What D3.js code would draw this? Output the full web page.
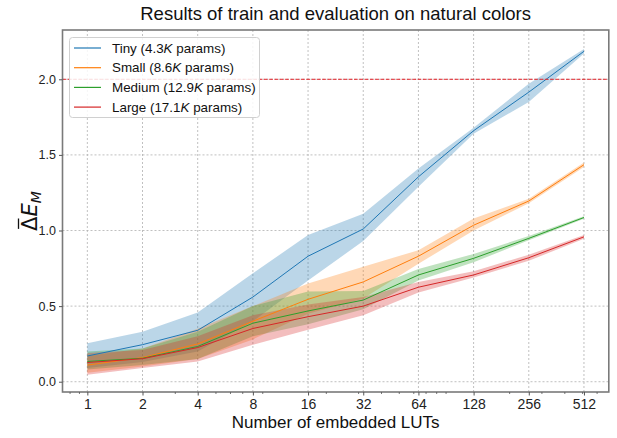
<!DOCTYPE html>
<html><head><meta charset="utf-8">
<script src="https://cdn.jsdelivr.net/npm/d3@7"></script>
<style>body{margin:0;background:#fff}svg{display:block}</style>
</head><body><svg id="c" width="617" height="438"></svg>
<script>
const luts = [1, 2, 4, 8, 16, 32, 64, 128, 256, 512];
const minorTicks = [0.8, 0.9, 3, 5, 6, 7, 9, 20, 30, 40, 50, 60, 70, 80, 90, 200, 300, 400, 500, 600];
const yTicks = [0, 0.5, 1.0, 1.5, 2.0];
const seriesNames = ["Tiny (4.3K params)", "Small (8.6K params)", "Medium (12.9K params)", "Large (17.1K params)"];
const seriesColors = ["#1f77b4", "#ff7f0e", "#2ca02c", "#d62728"];
const tinyMean  = [0.17, 0.245, 0.34, 0.56, 0.83, 1.01, 1.355, 1.66, 1.915, 2.185];
const tinyLow   = [0.09, 0.13, 0.20, 0.40, 0.67, 0.93, 1.29, 1.64, 1.85, 2.17];
const tinyHigh  = [0.255, 0.33, 0.457, 0.717, 0.97, 1.11, 1.41, 1.68, 1.97, 2.20];
const smallMean = [0.11, 0.16, 0.25, 0.40, 0.545, 0.66, 0.83, 1.035, 1.195, 1.435];
const smallLow  = [0.06, 0.10, 0.15, 0.28, 0.45, 0.55, 0.78, 1.00, 1.18, 1.42];
const smallHigh = [0.17, 0.22, 0.35, 0.50, 0.65, 0.76, 0.87, 1.08, 1.21, 1.45];
const medMean   = [0.134, 0.155, 0.233, 0.387, 0.468, 0.54, 0.706, 0.816, 0.948, 1.086];
const medLow    = [0.08, 0.11, 0.15, 0.30, 0.38, 0.48, 0.67, 0.79, 0.935, 1.077];
const medHigh   = [0.20, 0.22, 0.33, 0.50, 0.596, 0.60, 0.745, 0.845, 0.963, 1.095];
const largeMean = [0.127, 0.152, 0.226, 0.352, 0.43, 0.50, 0.625, 0.706, 0.82, 0.958];
const largeLow  = [0.046, 0.09, 0.134, 0.244, 0.343, 0.44, 0.59, 0.69, 0.80, 0.945];
const largeHigh = [0.19, 0.21, 0.30, 0.44, 0.51, 0.56, 0.66, 0.73, 0.84, 0.97];
const thresholdValue = 2.0;

const series = [
  {mean: tinyMean, low: tinyLow, high: tinyHigh},
  {mean: smallMean, low: smallLow, high: smallHigh},
  {mean: medMean, low: medLow, high: medHigh},
  {mean: largeMean, low: largeLow, high: largeHigh}
];

const L = 62.5, R = 608.8, T = 30, B = 392;
const svg = d3.select("#c");
const lx = d3.scaleLog().base(2).domain([Math.pow(2, -0.45), Math.pow(2, 9.45)]).range([L, R]);
const y = d3.scaleLinear().domain([-0.068, 2.326]).range([B, T]);
const font = "'Liberation Sans', Arial, Helvetica, sans-serif";

// grid
const grid = svg.append("g");
luts.forEach(v => grid.append("line").attr("x1", lx(v)).attr("x2", lx(v)).attr("y1", T).attr("y2", B)
  .attr("stroke", "#b0b0b0").attr("stroke-width", 0.8).attr("stroke-dasharray", "2,2"));
yTicks.forEach(v => grid.append("line").attr("x1", L).attr("x2", R).attr("y1", y(v)).attr("y2", y(v))
  .attr("stroke", "#b0b0b0").attr("stroke-width", 0.8).attr("stroke-dasharray", "2,2"));

// bands
const area = d3.area().x((d, i) => lx(luts[i])).y0(d => y(d[0])).y1(d => y(d[1]));
series.forEach((s, k) => {
  const pts = luts.map((_, i) => [s.low[i], s.high[i]]);
  svg.append("path").attr("d", area(pts)).attr("fill", seriesColors[k]).attr("fill-opacity", 0.3);
});
// lines
const line = d3.line().x((d, i) => lx(luts[i])).y(d => y(d));
series.forEach((s, k) => {
  svg.append("path").attr("d", line(s.mean)).attr("fill", "none").attr("stroke", seriesColors[k]).attr("stroke-width", 1);
});

// threshold
svg.append("line").attr("x1", L).attr("x2", R).attr("y1", y(thresholdValue)).attr("y2", y(thresholdValue))
  .attr("stroke", "#e3242b").attr("stroke-width", 1).attr("stroke-dasharray", "3.7,1.6");

// spines
svg.append("rect").attr("x", L).attr("y", T).attr("width", R - L).attr("height", B - T)
  .attr("fill", "none").attr("stroke", "#7a7a7a").attr("stroke-width", 1.6);

// x axis
const xAxis = d3.axisBottom(lx).tickValues(luts).tickFormat(d3.format("d")).tickSize(3.5).tickPadding(4);
const gx = svg.append("g").attr("transform", `translate(0,${B})`).call(xAxis);
gx.select(".domain").remove();
gx.selectAll(".tick line").attr("stroke", "#555");
gx.selectAll("text").attr("font-family", font).attr("font-size", 14).attr("fill", "#222");
const xMinor = d3.axisBottom(lx).tickValues(minorTicks).tickFormat("").tickSize(2);
const gxm = svg.append("g").attr("transform", `translate(0,${B})`).call(xMinor);
gxm.select(".domain").remove();
gxm.selectAll(".tick line").attr("stroke", "#555").attr("stroke-width", 0.8);

// y axis
const yAxis = d3.axisLeft(y).tickValues(yTicks).tickFormat(d3.format(".1f")).tickSize(3.5).tickPadding(3);
const gy = svg.append("g").attr("transform", `translate(${L},0)`).call(yAxis);
gy.select(".domain").remove();
gy.selectAll(".tick line").attr("stroke", "#555");
gy.selectAll("text").attr("font-family", font).attr("font-size", 12.5).attr("fill", "#222");

// title
svg.append("text").attr("x", (L + R) / 2).attr("y", 20).attr("text-anchor", "middle")
  .attr("font-family", font).attr("font-size", 18.5).attr("fill", "#111")
  .text("Results of train and evaluation on natural colors");
// x label
svg.append("text").attr("x", (L + R) / 2).attr("y", 428).attr("text-anchor", "middle")
  .attr("font-family", font).attr("font-size", 17).attr("fill", "#111").text("Number of embedded LUTs");
// y label
const ylg = svg.append("g").attr("transform", `translate(37,${(T + B) / 2}) rotate(-90)`);
const yl = ylg.append("text").attr("x", 0).attr("y", 0)
  .attr("font-family", "'DejaVu Sans', sans-serif").attr("font-size", 21).attr("fill", "#111");
yl.append("tspan").text("\u0394");
yl.append("tspan").attr("font-style", "italic").text("E");
yl.append("tspan").attr("font-style", "italic").attr("font-size", 14).attr("dy", 4).text("M");
const tw = yl.node().getComputedTextLength();
const x0 = -tw / 2;
yl.attr("x", x0);
const dw = yl.node().getSubStringLength(0, 1);
ylg.append("line").attr("x1", x0 + 2).attr("x2", x0 + dw - 2).attr("y1", -18.5).attr("y2", -18.5)
  .attr("stroke", "#111").attr("stroke-width", 1.3);

// legend
const lg = svg.append("g");
lg.append("rect").attr("x", 69.5).attr("y", 37.5).attr("width", 190).attr("height", 80).attr("rx", 3)
  .attr("fill", "#fff").attr("fill-opacity", 0.85).attr("stroke", "#d0d0d0").attr("stroke-width", 1);
seriesNames.forEach((n, k) => {
  const cy = 48 + k * 19.7;
  lg.append("line").attr("x1", 74).attr("x2", 101).attr("y1", cy).attr("y2", cy)
    .attr("stroke", seriesColors[k]).attr("stroke-width", 1.2);
  const t = lg.append("text").attr("x", 112).attr("y", cy + 4.6).attr("font-family", font)
    .attr("font-size", 13.4).attr("fill", "#111");
  const parts = n.split("K");
  t.append("tspan").text(parts[0]);
  t.append("tspan").attr("font-style", "italic").text("K");
  t.append("tspan").text(parts[1]);
});
</script></body></html>
